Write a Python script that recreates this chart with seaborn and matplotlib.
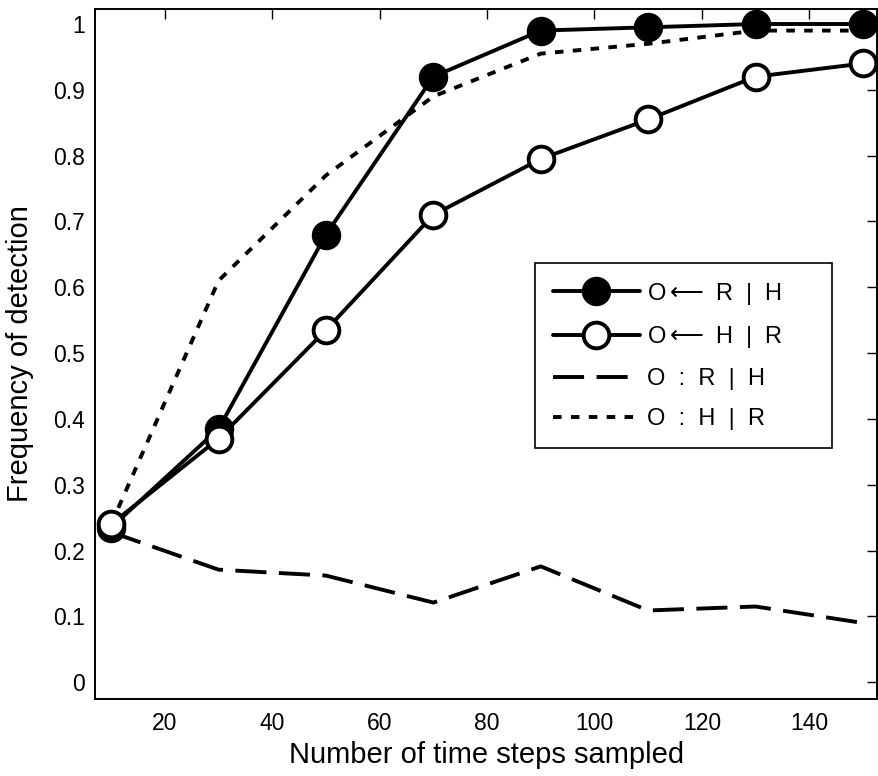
import matplotlib
matplotlib.use("Agg")
import matplotlib.pyplot as plt
import seaborn as sns
import numpy as np
import pandas as pd

# ---- data ----
time_steps = [10, 30, 50, 70, 90, 110, 130, 150]
o_from_r_given_h = [0.235, 0.385, 0.68, 0.92, 0.99, 0.995, 1.0, 1.0]
o_from_h_given_r = [0.24, 0.37, 0.535, 0.71, 0.795, 0.855, 0.92, 0.94]
o_r_given_h = [0.228, 0.171, 0.162, 0.121, 0.176, 0.109, 0.115, 0.09]
o_h_given_r = [0.24, 0.61, 0.77, 0.89, 0.955, 0.97, 0.99, 0.99]
labels = ["O$\\longleftarrow$ R  |  H", "O$\\longleftarrow$ H  |  R",
          "O  :  R  |  H", "O  :  H  |  R"]
x_ticks = [20, 40, 60, 80, 100, 120, 140]
y_ticks = [0, 0.1, 0.2, 0.3, 0.4, 0.5, 0.6, 0.7, 0.8, 0.9, 1.0]
y_tick_labels = ["0", "0.1", "0.2", "0.3", "0.4", "0.5", "0.6", "0.7", "0.8", "0.9", "1"]

sns.set_theme(style="white")
plt.rcParams["font.family"] = ["Liberation Sans", "DejaVu Sans"]
plt.rcParams["text.color"] = "black"
plt.rcParams["axes.labelcolor"] = "black"
plt.rcParams["mathtext.fontset"] = "dejavusans"

fig = plt.figure(figsize=(8.79, 7.76), dpi=100)
ax = fig.add_axes([95 / 879, 1 - 699 / 776, (877.5 - 95) / 879, (699 - 9) / 776])

lw = 2.8
# dashed & dotted lines (beneath markers)
sns.lineplot(x=time_steps, y=o_r_given_h, ax=ax, color="black", lw=lw,
             linestyle=(0, (8, 3.2)), label=labels[2], zorder=2)
sns.lineplot(x=time_steps, y=o_h_given_r, ax=ax, color="black", lw=lw,
             linestyle=(0, (2.2, 2.4)), label=labels[3], zorder=2)
# marker lines
sns.lineplot(x=time_steps, y=o_from_r_given_h, ax=ax, color="black", lw=lw,
             marker="o", markersize=19, markerfacecolor="black",
             markeredgecolor="black", markeredgewidth=2.2, label=labels[0], zorder=3)
sns.lineplot(x=time_steps, y=o_from_h_given_r, ax=ax, color="black", lw=lw,
             marker="o", markersize=18.5, markerfacecolor="white",
             markeredgecolor="black", markeredgewidth=2.8, label=labels[1], zorder=4)

ax.set_xlim(7, 152.7)
ax.set_ylim(-0.0255, 1.0228)
ax.set_xticks(x_ticks)
ax.set_xticklabels([str(t) for t in x_ticks])
ax.set_yticks(y_ticks)
ax.set_yticklabels(y_tick_labels)

ax.tick_params(axis="both", which="major", direction="in", length=7, width=1.0,
               top=True, right=True, labelsize=16.5, colors="black")
ax.tick_params(axis="x", pad=9)
ax.tick_params(axis="y", pad=7)
for sp in ax.spines.values():
    sp.set_visible(True)
    sp.set_color("black")
    sp.set_linewidth(1.4)

ax.set_xlabel("Number of time steps sampled", fontsize=21, color="black", labelpad=5)
ax.set_ylabel("Frequency of detection", fontsize=21, color="black", labelpad=14)

handles, labs = ax.get_legend_handles_labels()
order = [labs.index(l) for l in labels]
leg = ax.legend([handles[i] for i in order], [labs[i] for i in order],
                loc="upper left",
                bbox_to_anchor=(535 / 879, 1 - 445 / 776, (832 - 535) / 879, (445 - 263) / 776),
                bbox_transform=fig.transFigure, mode="expand", fontsize=17, frameon=True,
                fancybox=False, shadow=False, handlelength=3.7, handletextpad=0.3,
                labelspacing=0.75, borderpad=0.75, borderaxespad=0)
leg.get_frame().set_edgecolor("black")
leg.get_frame().set_linewidth(1.2)
leg.get_frame().set_alpha(1)

fig.savefig("out.png", dpi=100, facecolor="white")
